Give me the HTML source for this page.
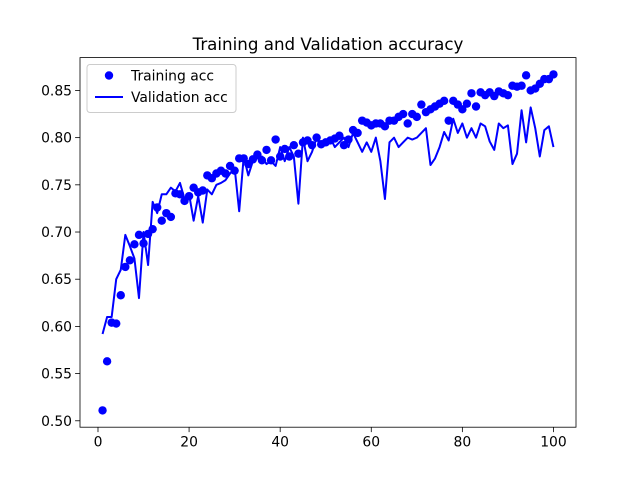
<!DOCTYPE html>
<html><head><meta charset="utf-8"><style>
body{margin:0;background:#fff;}
svg{display:block;font-family:"DejaVu Sans","Liberation Sans",sans-serif;}
</style></head><body>
<svg id="chart" width="640" height="480"></svg>
<script>
const epochs = Array.from({length:100},(_,i)=>i+1);
const trainAcc = [0.511,0.563,0.604,0.603,0.633,0.663,0.67,0.687,0.697,0.688,0.698,0.703,0.726,0.712,0.72,0.716,0.741,0.74,0.733,0.738,0.747,0.742,0.744,0.76,0.757,0.762,0.765,0.762,0.77,0.765,0.778,0.778,0.772,0.777,0.782,0.776,0.787,0.776,0.798,0.78,0.788,0.78,0.792,0.783,0.795,0.797,0.792,0.8,0.793,0.795,0.797,0.799,0.802,0.792,0.798,0.808,0.805,0.818,0.816,0.813,0.815,0.815,0.812,0.818,0.818,0.822,0.825,0.815,0.825,0.822,0.835,0.827,0.83,0.833,0.836,0.839,0.818,0.839,0.835,0.83,0.836,0.847,0.833,0.848,0.845,0.848,0.844,0.849,0.847,0.845,0.855,0.854,0.855,0.866,0.85,0.852,0.857,0.862,0.862,0.867];
const valAcc = [0.592,0.61,0.61,0.65,0.66,0.697,0.685,0.672,0.63,0.7,0.665,0.732,0.72,0.74,0.74,0.747,0.743,0.752,0.735,0.74,0.712,0.738,0.71,0.745,0.74,0.75,0.752,0.755,0.762,0.768,0.722,0.78,0.76,0.775,0.778,0.78,0.772,0.775,0.77,0.79,0.775,0.79,0.78,0.73,0.8,0.775,0.785,0.8,0.79,0.795,0.8,0.79,0.795,0.8,0.79,0.805,0.795,0.785,0.795,0.785,0.8,0.775,0.735,0.795,0.8,0.79,0.795,0.8,0.798,0.8,0.805,0.81,0.771,0.778,0.79,0.806,0.797,0.82,0.805,0.815,0.8,0.81,0.8,0.815,0.812,0.796,0.787,0.815,0.81,0.813,0.772,0.783,0.829,0.795,0.832,0.81,0.78,0.808,0.812,0.79];
const xTicks = [0,20,40,60,80,100];
const yTicks = [0.50,0.55,0.60,0.65,0.70,0.75,0.80,0.85];

const L=80,R=576,T=57.6,B=427.2;
const xmin=-3.95,xmax=104.95,ymin=0.4932,ymax=0.8848;
const sx=v=>L+(v-xmin)/(xmax-xmin)*(R-L);
const sy=v=>B-(v-ymin)/(ymax-ymin)*(B-T);
const NS="http://www.w3.org/2000/svg";
const svg=document.getElementById('chart');
function mk(tag,attrs,parent){const e=document.createElementNS(NS,tag);for(const k in attrs)e.setAttribute(k,attrs[k]);(parent||svg).appendChild(e);return e;}

const title=mk('text',{x:328,y:50,'text-anchor':'middle','font-size':16.7,fill:'#000'});
title.textContent='Training and Validation accuracy';



const xAxis=mk('g',{});


xTicks.forEach(t=>{
  const x=sx(t);
  mk('line',{x1:x,x2:x,y1:B,y2:B+4.9,stroke:'#000','stroke-width':0.8},xAxis);
  const tx=mk('text',{x:x,y:B+19.5,'text-anchor':'middle','font-size':13.9,fill:'#000'},xAxis);
  tx.textContent=t;
  
  
});
const yAxis=mk('g',{});


yTicks.forEach(t=>{
  const y=sy(t);
  mk('line',{x1:L-4.9,x2:L,y1:y,y2:y,stroke:'#000','stroke-width':0.8},yAxis);
  const tx=mk('text',{x:L-8,y:y+5,'text-anchor':'end','font-size':13.9,fill:'#000'},yAxis);
  tx.textContent=t.toFixed(2);
  
  
});

const line=mk('polyline',{points:epochs.map((e,i)=>sx(e)+','+sy(valAcc[i])).join(' '),fill:'none',stroke:'#0000ff','stroke-width':2,'stroke-linejoin':'round'});



const pts=mk('g',{});


epochs.forEach((e,i)=>{
  const c=mk('circle',{cx:sx(e),cy:sy(trainAcc[i]),r:4.2,fill:'#0000ff'},pts);
  
  
});

mk('rect',{x:L,y:T,width:R-L,height:B-T,fill:'none',stroke:'#000','stroke-width':0.8});

const leg=mk('g',{});


mk('rect',{x:87,y:64.5,width:149,height:48,rx:3,fill:'#fff','fill-opacity':0.8,stroke:'#ccc','stroke-width':1},leg);
mk('circle',{cx:109,cy:75.5,r:4.2,fill:'#0000ff'},leg);
const l1=mk('text',{x:131,y:80.5,'font-size':13.9,fill:'#000'},leg);l1.textContent='Training acc';


mk('line',{x1:95,x2:123,y1:97,y2:97,stroke:'#0000ff','stroke-width':2},leg);
const l2=mk('text',{x:131,y:102,'font-size':13.9,fill:'#000'},leg);l2.textContent='Validation acc';


</script>
</body></html>
